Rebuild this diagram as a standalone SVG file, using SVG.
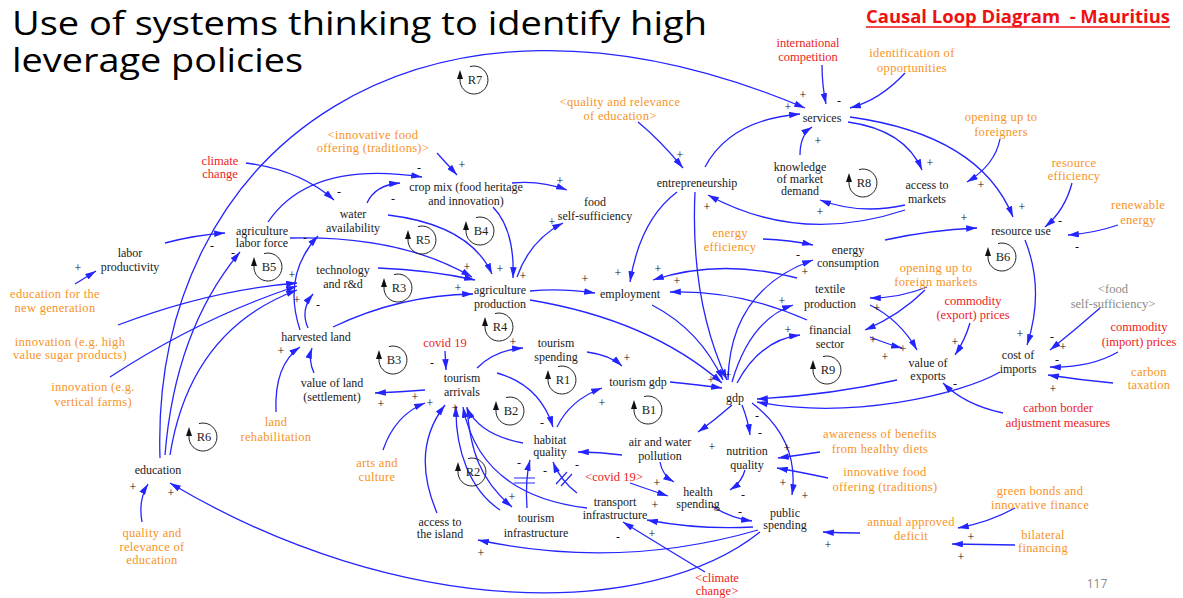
<svg xmlns="http://www.w3.org/2000/svg" xmlns:xlink="http://www.w3.org/1999/xlink" width="1183" height="598" viewBox="0 0 1183 598">
  <style>
    .t { font-family: "Open Sans", "Liberation Sans", sans-serif; fill: #000; }
    .hd { font-family: "Open Sans", "Liberation Sans", sans-serif; font-weight: bold; fill: #ee1111; }
    .v { font-family: "Liberation Serif", "Times New Roman", "DejaVu Serif", serif; font-size: 12px; text-anchor: middle; }
    .n { fill: #1a1a1a; }
    .o { fill: #f7931e; font-size: 12.5px; letter-spacing: 0.3px; }
    .r { fill: #ee2222; font-size: 12.5px; }
    .g { fill: #8a8a8a; font-size: 12.5px; }
    .s { font-family: "Liberation Serif", "Times New Roman", "DejaVu Serif", serif; font-size: 12px; fill: #111; text-anchor: middle; }
    .lb { font-family: "Liberation Serif", "Times New Roman", "DejaVu Serif", serif; font-size: 12.5px; fill: #222; text-anchor: middle; }
    .c { fill: none; stroke: #2424ff; stroke-width: 1.3; marker-end: url(#ah); }
    .d { fill: none; stroke: #2424ff; stroke-width: 1.2; }
  </style>
  <defs>
    <marker id="ah" viewBox="0 0 10 6" refX="10" refY="3" markerWidth="11" markerHeight="6.5" markerUnits="userSpaceOnUse" orient="auto">
      <path d="M0,0 L10,3 L0,6 Z" fill="#2424ff"/>
    </marker>
    <!-- loop marker: open circle with upward arrow on the left -->
    <g id="lp">
      <path d="M-4,-13.4 A14,14 0 1 1 -14,-1" fill="none" stroke="#222" stroke-width="1"/>
      <path d="M-14,-10 L-17,-1 L-11,-1 Z" fill="#111"/>
    </g>
  </defs>

  <rect width="1183" height="598" fill="#fff"/>

  <!-- title and heading -->
  <g id="title">
    <text class="t" x="12" y="35" font-size="32" textLength="695" lengthAdjust="spacingAndGlyphs">Use of systems thinking to identify high</text>
    <text class="t" x="12" y="72" font-size="32" textLength="291" lengthAdjust="spacingAndGlyphs">leverage policies</text>
  </g>
  <g id="heading">
    <text class="hd" x="866" y="23" font-size="17" textLength="304" lengthAdjust="spacingAndGlyphs" xml:space="preserve">Causal Loop Diagram  - Mauritius</text>
    <line x1="866" y1="27" x2="1170" y2="27" stroke="#ee1111" stroke-width="1.5"/>
  </g>

  <!-- connectors -->
  <g id="connectors">
    <path class="c" d="M160,458 C150,150 420,-55 805,108"/>
    <path class="c" d="M165,455 Q175,330 240,252"/>
    <path class="c" d="M170,455 Q190,330 297,290"/>
    <path class="c" d="M165,243 Q195,235 225,233"/>
    <path class="c" d="M75,284 L96,271"/>
    <path class="c" d="M118,325 Q210,290 297,283"/>
    <path class="c" d="M110,377 Q200,318 297,286"/>
    <path class="c" d="M308,328 Q300,310 313,294"/>
    <path class="c" d="M300,330 Q282,275 318,236"/>
    <path class="c" d="M276,412 Q274,365 300,347"/>
    <path class="c" d="M314,373 Q308,360 312,348"/>
    <path class="c" d="M142,522 Q138,500 148,484"/>
    <path class="c" d="M246,163 Q300,170 334,200"/>
    <path class="c" d="M268,222 Q310,160 422,177"/>
    <path class="c" d="M367,203 Q375,185 400,183"/>
    <path class="c" d="M437,153 L457,175"/>
    <path class="c" d="M512,183 Q540,180 567,190"/>
    <path class="c" d="M493,207 Q515,230 513,278"/>
    <path class="c" d="M517,277 Q530,240 563,223"/>
    <path class="c" d="M388,215 Q470,225 492,274"/>
    <path class="c" d="M378,268 Q430,270 475,280"/>
    <path class="c" d="M290,238 Q400,235 472,277"/>
    <path class="c" d="M333,327 Q400,295 473,294"/>
    <path class="c" d="M530,291 Q560,288 595,293"/>
    <path class="c" d="M530,300 Q650,320 722,383"/>
    <path class="c" d="M677,192 Q640,220 630,282"/>
    <path class="c" d="M695,192 Q690,300 727,380"/>
    <path class="c" d="M797,278 Q720,258 653,280"/>
    <path class="c" d="M807,320 Q740,290 670,292"/>
    <path class="c" d="M652,305 Q700,330 723,380"/>
    <path class="c" d="M728,380 Q730,290 813,260"/>
    <path class="c" d="M763,239 Q790,240 813,245"/>
    <path class="c" d="M732,382 Q750,320 793,305"/>
    <path class="c" d="M737,383 Q760,340 800,335"/>
    <path class="c" d="M885,240 Q930,230 977,228"/>
    <path class="c" d="M927,287 Q900,298 870,298"/>
    <path class="c" d="M925,290 Q900,315 865,330"/>
    <path class="c" d="M870,305 Q900,320 917,350"/>
    <path class="c" d="M870,337 Q890,345 902,348"/>
    <path class="c" d="M970,323 Q965,340 955,355"/>
    <path class="c" d="M897,380 Q830,395 757,399"/>
    <path class="c" d="M1000,372 C960,395 850,420 757,402"/>
    <path class="c" d="M1003,413 Q965,405 943,383"/>
    <path class="c" d="M1025,240 Q1045,290 1027,345"/>
    <path class="c" d="M1100,308 Q1075,330 1050,350"/>
    <path class="c" d="M1118,352 Q1090,368 1050,367"/>
    <path class="c" d="M1113,383 Q1080,380 1048,375"/>
    <path class="c" d="M1072,183 Q1065,210 1045,227"/>
    <path class="c" d="M1118,225 Q1095,233 1068,235"/>
    <path class="c" d="M850,117 Q980,135 1013,217"/>
    <path class="c" d="M848,122 Q905,130 922,170"/>
    <path class="c" d="M1000,139 Q995,165 967,182"/>
    <path class="c" d="M905,205 Q860,215 820,200"/>
    <path class="c" d="M905,210 Q800,245 708,195"/>
    <path class="c" d="M800,155 Q800,135 812,127"/>
    <path class="c" d="M705,167 Q730,120 800,114"/>
    <path class="c" d="M822,65 Q822,85 826,104"/>
    <path class="c" d="M905,73 Q880,100 850,108"/>
    <path class="c" d="M638,122 Q660,140 683,168"/>
    <path class="c" d="M445,351 L446,370"/>
    <path class="c" d="M425,390 Q400,392 375,393"/>
    <path class="c" d="M477,368 Q495,350 523,348"/>
    <path class="c" d="M587,352 Q610,355 622,366"/>
    <path class="c" d="M670,382 Q700,385 722,388"/>
    <path class="c" d="M497,373 Q540,385 553,427"/>
    <path class="c" d="M523,443 Q480,435 467,408"/>
    <path class="c" d="M557,427 Q570,400 602,388"/>
    <path class="c" d="M622,455 Q600,452 578,452"/>
    <path class="c" d="M527,508 Q525,480 530,460"/>
    <path class="c" d="M577,493 Q560,480 553,462"/>
    <path class="c" d="M467,407 C470,450 480,480 512,507"/>
    <path class="c" d="M500,510 C470,490 455,450 456,406"/>
    <path class="c" d="M587,508 Q480,495 463,407"/>
    <path class="c" d="M437,513 Q410,450 445,405"/>
    <path class="c" d="M383,450 Q395,415 425,403"/>
    <path class="c" d="M732,405 Q715,420 698,432"/>
    <path class="c" d="M742,405 Q748,420 750,435"/>
    <path class="c" d="M752,403 Q800,440 792,495"/>
    <path class="c" d="M820,452 Q800,455 778,458"/>
    <path class="c" d="M828,478 Q800,472 777,468"/>
    <path class="c" d="M660,462 Q662,475 674,482"/>
    <path class="c" d="M630,483 Q650,490 668,496"/>
    <path class="c" d="M745,470 Q742,482 730,490"/>
    <path class="c" d="M712,506 Q730,518 752,521"/>
    <path class="c" d="M753,527 Q700,530 647,520"/>
    <path class="c" d="M758,530 Q620,570 478,540"/>
    <path class="c" d="M760,532 C650,620 400,620 170,483"/>
    <path class="c" d="M705,572 Q660,545 623,522"/>
    <path class="c" d="M860,533 Q840,533 823,532"/>
    <path class="c" d="M1015,508 Q990,522 958,528"/>
    <path class="c" d="M1015,545 L952,544"/>
    <!-- delay marks -->
    <path class="d" d="M514,478 L535,478 M514,483 L535,483"/>
    <path class="d" d="M556,484 L567,472 M561,486 L572,474"/>
  </g>

  <!-- polarity signs -->
  <g id="signs">
    <text class="s" x="803" y="99">+</text>
    <text class="s" x="788" y="111">+</text>
    <text class="s" x="839" y="105">-</text>
    <text class="s" x="818" y="145">+</text>
    <text class="s" x="680" y="159">+</text>
    <text class="s" x="930" y="167">+</text>
    <text class="s" x="981" y="189">+</text>
    <text class="s" x="820" y="216">+</text>
    <text class="s" x="707" y="211">+</text>
    <text class="s" x="1022" y="211">+</text>
    <text class="s" x="1060" y="225">-</text>
    <text class="s" x="1077" y="251">-</text>
    <text class="s" x="964" y="222">+</text>
    <text class="s" x="798" y="259">-</text>
    <text class="s" x="805" y="276">+</text>
    <text class="s" x="782" y="305">+</text>
    <text class="s" x="788" y="334">+</text>
    <text class="s" x="877" y="312">+</text>
    <text class="s" x="873" y="344">+</text>
    <text class="s" x="885" y="361">+</text>
    <text class="s" x="903" y="353">+</text>
    <text class="s" x="955" y="346">+</text>
    <text class="s" x="955" y="388">-</text>
    <text class="s" x="1020" y="338">+</text>
    <text class="s" x="1052" y="341">-</text>
    <text class="s" x="1063" y="351">+</text>
    <text class="s" x="1057" y="364">-</text>
    <text class="s" x="1053" y="393">+</text>
    <text class="s" x="757" y="420">-</text>
    <text class="s" x="760" y="437">-</text>
    <text class="s" x="712" y="451">+</text>
    <text class="s" x="805" y="500">+</text>
    <text class="s" x="787" y="452">+</text>
    <text class="s" x="783" y="487">+</text>
    <text class="s" x="743" y="499">-</text>
    <text class="s" x="740" y="516">-</text>
    <text class="s" x="657" y="487">+</text>
    <text class="s" x="655" y="509">+</text>
    <text class="s" x="652" y="538">+</text>
    <text class="s" x="618" y="541">-</text>
    <text class="s" x="577" y="469">-</text>
    <text class="s" x="828" y="549">+</text>
    <text class="s" x="971" y="541">+</text>
    <text class="s" x="961" y="561">+</text>
    <text class="s" x="481" y="557">+</text>
    <text class="s" x="512" y="501">+</text>
    <text class="s" x="519" y="467">-</text>
    <text class="s" x="545" y="475">-</text>
    <text class="s" x="542" y="427">-</text>
    <text class="s" x="415" y="401">+</text>
    <text class="s" x="381" y="408">+</text>
    <text class="s" x="430" y="407">+</text>
    <text class="s" x="455" y="412">+</text>
    <text class="s" x="432" y="367">-</text>
    <text class="s" x="513" y="346">+</text>
    <text class="s" x="627" y="362">+</text>
    <text class="s" x="711" y="384">+</text>
    <text class="s" x="728" y="379">+</text>
    <text class="s" x="602" y="407">+</text>
    <text class="s" x="585" y="283">+</text>
    <text class="s" x="618" y="277">+</text>
    <text class="s" x="658" y="273">+</text>
    <text class="s" x="677" y="285">+</text>
    <text class="s" x="500" y="273">+</text>
    <text class="s" x="523" y="280">+</text>
    <text class="s" x="467" y="271">+</text>
    <text class="s" x="458" y="292">+</text>
    <text class="s" x="552" y="226">+</text>
    <text class="s" x="560" y="185">+</text>
    <text class="s" x="462" y="169">+</text>
    <text class="s" x="419" y="172">-</text>
    <text class="s" x="393" y="203">-</text>
    <text class="s" x="339" y="196">-</text>
    <text class="s" x="305" y="242">-</text>
    <text class="s" x="292" y="279">+</text>
    <text class="s" x="297" y="304">+</text>
    <text class="s" x="318" y="309">-</text>
    <text class="s" x="281" y="355">+</text>
    <text class="s" x="212" y="250">-</text>
    <text class="s" x="233" y="257">-</text>
    <text class="s" x="78" y="272">+</text>
    <text class="s" x="133" y="491">+</text>
    <text class="s" x="171" y="497">+</text>
  </g>

  <!-- loop identifiers -->
  <g id="loops">
    <use xlink:href="#lp" x="474" y="80"/><text class="lb" x="475" y="84">R7</text>
    <use xlink:href="#lp" x="863" y="183"/><text class="lb" x="864" y="187">R8</text>
    <use xlink:href="#lp" x="480" y="231"/><text class="lb" x="481" y="235">B4</text>
    <use xlink:href="#lp" x="422" y="240"/><text class="lb" x="423" y="244">R5</text>
    <use xlink:href="#lp" x="398" y="288"/><text class="lb" x="399" y="292">R3</text>
    <use xlink:href="#lp" x="268" y="267"/><text class="lb" x="269" y="271">B5</text>
    <use xlink:href="#lp" x="499" y="327"/><text class="lb" x="500" y="331">R4</text>
    <use xlink:href="#lp" x="393" y="360"/><text class="lb" x="394" y="364">B3</text>
    <use xlink:href="#lp" x="562" y="380"/><text class="lb" x="563" y="384">R1</text>
    <use xlink:href="#lp" x="648" y="410"/><text class="lb" x="649" y="414">B1</text>
    <use xlink:href="#lp" x="510" y="411"/><text class="lb" x="511" y="415">B2</text>
    <use xlink:href="#lp" x="472" y="472"/><text class="lb" x="473" y="476">R2</text>
    <use xlink:href="#lp" x="203" y="437"/><text class="lb" x="204" y="441">R6</text>
    <use xlink:href="#lp" x="827" y="370"/><text class="lb" x="828" y="374">R9</text>
    <use xlink:href="#lp" x="1002" y="257"/><text class="lb" x="1003" y="261">B6</text>
  </g>

  <!-- variables -->
  <g id="n-services"><text class="v n" x="822" y="122">services</text></g>
  <g id="n-knowledge"><text class="v n" x="800" y="171">knowledge<tspan x="800" dy="12">of market</tspan><tspan x="800" dy="12">demand</tspan></text></g>
  <g id="n-entrepreneurship"><text class="v n" x="697" y="187">entrepreneurship</text></g>
  <g id="n-access-markets"><text class="v n" x="927" y="189">access to<tspan x="927" dy="14">markets</tspan></text></g>
  <g id="n-resource-use"><text class="v n" x="1021" y="235">resource use</text></g>
  <g id="n-cost-imports"><text class="v n" x="1018" y="359">cost of<tspan x="1018" dy="14">imports</tspan></text></g>
  <g id="n-value-exports"><text class="v n" x="928" y="367">value of<tspan x="928" dy="13">exports</tspan></text></g>
  <g id="n-energy-consumption"><text class="v n" x="848" y="254">energy<tspan x="848" dy="13">consumption</tspan></text></g>
  <g id="n-textile"><text class="v n" x="830" y="293">textile<tspan x="830" dy="15">production</tspan></text></g>
  <g id="n-financial"><text class="v n" x="830" y="334">financial<tspan x="830" dy="14">sector</tspan></text></g>
  <g id="n-employment"><text class="v n" x="630" y="298">employment</text></g>
  <g id="n-food-ss"><text class="v n" x="595" y="206">food<tspan x="595" dy="14">self-sufficiency</tspan></text></g>
  <g id="n-crop-mix"><text class="v n" x="466" y="191">crop mix (food heritage<tspan x="466" dy="14">and innovation)</tspan></text></g>
  <g id="n-water"><text class="v n" x="353" y="218">water<tspan x="353" dy="14">availability</tspan></text></g>
  <g id="n-technology"><text class="v n" x="343" y="274">technology<tspan x="343" dy="14">and r&amp;d</tspan></text></g>
  <g id="n-agri-production"><text class="v n" x="500" y="294">agriculture<tspan x="500" dy="14">production</tspan></text></g>
  <g id="n-harvested"><text class="v n" x="316" y="341">harvested land</text></g>
  <g id="n-labor-force"><text class="v n" x="262" y="235">agriculture<tspan x="262" dy="12">labor force</tspan></text></g>
  <g id="n-labor-productivity"><text class="v n" x="130" y="257">labor<tspan x="130" dy="14">productivity</tspan></text></g>
  <g id="n-value-land"><text class="v n" x="332" y="387">value of land<tspan x="332" dy="14">(settlement)</tspan></text></g>
  <g id="n-education"><text class="v n" x="158" y="474">education</text></g>
  <g id="n-arrivals"><text class="v n" x="462" y="382">tourism<tspan x="462" dy="14">arrivals</tspan></text></g>
  <g id="n-spending"><text class="v n" x="556" y="347">tourism<tspan x="556" dy="14">spending</tspan></text></g>
  <g id="n-tourism-gdp"><text class="v n" x="638" y="386">tourism gdp</text></g>
  <g id="n-gdp"><text class="v n" x="735" y="402">gdp</text></g>
  <g id="n-habitat"><text class="v n" x="550" y="444">habitat<tspan x="550" dy="12">quality</tspan></text></g>
  <g id="n-pollution"><text class="v n" x="660" y="446">air and water<tspan x="660" dy="14">pollution</tspan></text></g>
  <g id="n-nutrition"><text class="v n" x="747" y="455">nutrition<tspan x="747" dy="14">quality</tspan></text></g>
  <g id="n-health"><text class="v n" x="698" y="496">health<tspan x="698" dy="12">spending</tspan></text></g>
  <g id="n-transport"><text class="v n" x="615" y="506">transport<tspan x="615" dy="13">infrastructure</tspan></text></g>
  <g id="n-public"><text class="v n" x="785" y="517">public<tspan x="785" dy="12">spending</tspan></text></g>
  <g id="n-access-island"><text class="v n" x="440" y="526">access to<tspan x="440" dy="12">the island</tspan></text></g>
  <g id="n-tourism-infra"><text class="v n" x="536" y="522">tourism<tspan x="536" dy="15">infrastructure</tspan></text></g>

  <!-- external drivers and policy levers -->
  <g id="x-quality-edu-ref"><text class="v o" x="620" y="106">&lt;quality and relevance<tspan x="620" dy="14">of education&gt;</tspan></text></g>
  <g id="x-innov-food-ref"><text class="v o" x="373" y="139">&lt;innovative food<tspan x="373" dy="13">offering (traditions)&gt;</tspan></text></g>
  <g id="x-identification"><text class="v o" x="912" y="57">identification of<tspan x="912" dy="15">opportunities</tspan></text></g>
  <g id="x-foreigners"><text class="v o" x="1001" y="121">opening up to<tspan x="1001" dy="15">foreigners</tspan></text></g>
  <g id="x-res-eff"><text class="v o" x="1074" y="167">resource<tspan x="1074" dy="13">efficiency</tspan></text></g>
  <g id="x-renewable"><text class="v o" x="1138" y="209">renewable<tspan x="1138" dy="15">energy</tspan></text></g>
  <g id="x-foreign-markets"><text class="v o" x="936" y="272">opening up to<tspan x="936" dy="14">foreign markets</tspan></text></g>
  <g id="x-carbon-tax"><text class="v o" x="1149" y="376">carbon<tspan x="1149" dy="13">taxation</tspan></text></g>
  <g id="x-energy-eff"><text class="v o" x="730" y="237">energy<tspan x="730" dy="14">efficiency</tspan></text></g>
  <g id="x-edu-new-gen"><text class="v o" x="55" y="298">education for the<tspan x="55" dy="14">new generation</tspan></text></g>
  <g id="x-innov-sugar"><text class="v o" x="70" y="346">innovation (e.g. high<tspan x="70" dy="13">value sugar products)</tspan></text></g>
  <g id="x-innov-farms"><text class="v o" x="93" y="391">innovation (e.g.<tspan x="93" dy="15">vertical farms)</tspan></text></g>
  <g id="x-land-rehab"><text class="v o" x="276" y="426">land<tspan x="276" dy="15">rehabilitation</tspan></text></g>
  <g id="x-arts"><text class="v o" x="377" y="467">arts and<tspan x="377" dy="14">culture</tspan></text></g>
  <g id="x-quality-edu"><text class="v o" x="152" y="537">quality and<tspan x="152" dy="14">relevance of</tspan><tspan x="152" dy="13">education</tspan></text></g>
  <g id="x-awareness"><text class="v o" x="880" y="438">awareness of benefits<tspan x="880" dy="15">from healthy diets</tspan></text></g>
  <g id="x-innov-food"><text class="v o" x="885" y="476">innovative food<tspan x="885" dy="15">offering (traditions)</tspan></text></g>
  <g id="x-deficit"><text class="v o" x="911" y="526">annual approved<tspan x="911" dy="14">deficit</tspan></text></g>
  <g id="x-green-bonds"><text class="v o" x="1040" y="495">green bonds and<tspan x="1040" dy="14">innovative finance</tspan></text></g>
  <g id="x-bilateral"><text class="v o" x="1043" y="539">bilateral<tspan x="1043" dy="13">financing</tspan></text></g>

  <g id="x-competition"><text class="v r" x="808" y="47">international<tspan x="808" dy="14">competition</tspan></text></g>
  <g id="x-climate"><text class="v r" x="220" y="165">climate<tspan x="220" dy="13">change</tspan></text></g>
  <g id="x-covid"><text class="v r" x="445" y="347">covid 19</text></g>
  <g id="x-export-prices"><text class="v r" x="973" y="305">commodity<tspan x="973" dy="14">(export) prices</tspan></text></g>
  <g id="x-import-prices"><text class="v r" x="1139" y="331">commodity<tspan x="1139" dy="15">(import) prices</tspan></text></g>
  <g id="x-cbam"><text class="v r" x="1058" y="412">carbon border<tspan x="1058" dy="15">adjustment measures</tspan></text></g>
  <g id="x-covid-ref"><text class="v r" x="614" y="481">&lt;covid 19&gt;</text></g>
  <g id="x-climate-ref"><text class="v r" x="717" y="582">&lt;climate<tspan x="717" dy="13">change&gt;</tspan></text></g>
  <g id="x-food-ss-ref"><text class="v g" x="1113" y="293">&lt;food<tspan x="1113" dy="15">self-sufficiency&gt;</tspan></text></g>

  <text x="1097" y="588" font-family="Open Sans, Liberation Sans, sans-serif" font-size="12" fill="#8a8a8a" text-anchor="middle">117</text>
</svg>
